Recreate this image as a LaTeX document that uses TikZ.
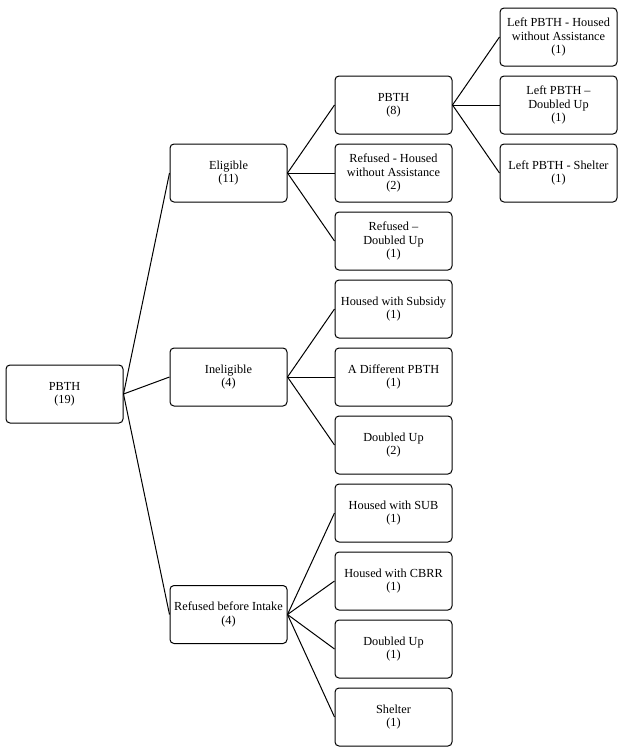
\documentclass[tikz,border=0pt]{standalone}
\usepackage{fontspec}
\setmainfont{Liberation Serif}
\usepackage{tikz}
\usetikzlibrary{positioning}

\begin{document}
\begin{tikzpicture}[
    x=1pt, y=1pt,
    node distance=9pt and 47pt,
    box/.style={
        rectangle,
        rounded corners=4pt,
        draw=black,
        line width=1pt,
        minimum width=117pt,
        minimum height=58pt,
        inner sep=2pt,
        align=center,
        font=\fontsize{12.3}{13.2}\selectfont
    },
    link/.style={
        line width=1pt
    }
]
\useasboundingbox (0,0) rectangle (624,-747);

% Nodes
\node[box] (stay) at (393.5,-105) {PBTH\\(8)};
\node[box, below=of stay] (refhoused) {Refused - Housed\\without Assistance\\(2)};
\node[box, below=of refhoused] (refdoubled) {Refused --\\Doubled Up\\(1)};
\node[box, below=of refdoubled] (subsidy) {Housed with Subsidy\\(1)};
\node[box, below=of subsidy] (diffpbth) {A Different PBTH\\(1)};
\node[box, below=of diffpbth] (doubled) {Doubled Up\\(2)};
\node[box, below=of doubled] (sub) {Housed with SUB\\(1)};
\node[box, below=of sub] (cbrr) {Housed with CBRR\\(1)};
\node[box, below=of cbrr] (doubledup) {Doubled Up\\(1)};
\node[box, below=of doubledup] (shelter) {Shelter\\(1)};

\node[box, right=of stay] (leftdoubled) {Left PBTH --\\Doubled Up\\(1)};
\node[box, above=of leftdoubled] (lefthoused) {Left PBTH - Housed\\without Assistance\\(1)};
\node[box, below=of leftdoubled] (leftshelter) {Left PBTH - Shelter\\(1)};

\node[box, left=of refhoused] (eligible) {Eligible\\(11)};
\node[box, left=of diffpbth] (ineligible) {Ineligible\\(4)};
\node[box, left=of cbrr, yshift=-33.5pt] (refused) {Refused before Intake\\(4)};
\node[box, left=46pt of ineligible, yshift=-17pt] (pbth) {PBTH\\(19)};

% Lines
\draw[link] (pbth.east) -- (eligible.west);
\draw[link] (pbth.east) -- (ineligible.west);
\draw[link] (pbth.east) -- (refused.west);

\draw[link] (eligible.east) -- (stay.west);
\draw[link] (eligible.east) -- (refhoused.west);
\draw[link] (eligible.east) -- (refdoubled.west);

\draw[link] (ineligible.east) -- (subsidy.west);
\draw[link] (ineligible.east) -- (diffpbth.west);
\draw[link] (ineligible.east) -- (doubled.west);

\draw[link] (refused.east) -- (sub.west);
\draw[link] (refused.east) -- (cbrr.west);
\draw[link] (refused.east) -- (doubledup.west);
\draw[link] (refused.east) -- (shelter.west);

\draw[link] (stay.east) -- (lefthoused.west);
\draw[link] (stay.east) -- (leftdoubled.west);
\draw[link] (stay.east) -- (leftshelter.west);
\end{tikzpicture}
\end{document}
